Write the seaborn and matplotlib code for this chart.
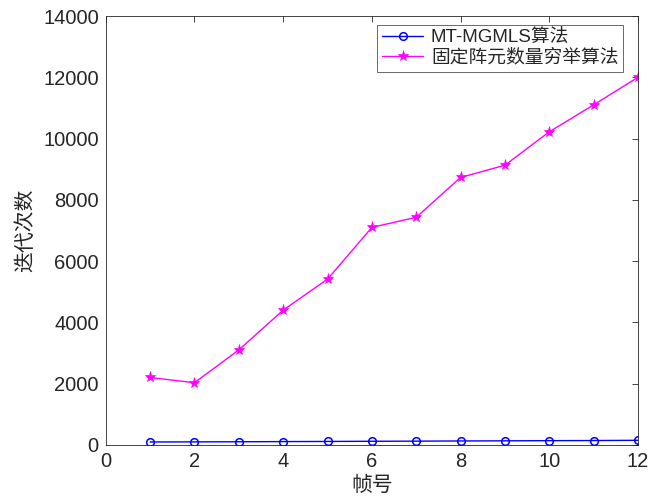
import matplotlib
matplotlib.use("Agg")
import matplotlib.pyplot as plt
import seaborn as sns

# frame index and iteration counts
frames = [1, 2, 3, 4, 5, 6, 7, 8, 9, 10, 11, 12]
mt_mgmls = [95, 98, 102, 108, 112, 118, 122, 128, 132, 138, 142, 150]
exhaustive = [2200, 2030, 3100, 4400, 5410, 7100, 7430, 8730, 9130, 10220, 11100, 12000]
series_names = ["MT-MGMLS算法", "固定阵元数量穷举算法"]
yticks = [0, 2000, 4000, 6000, 8000, 10000, 12000, 14000]
xticks = [0, 2, 4, 6, 8, 10, 12]

sns.set_style("white")
plt.rcParams["font.family"] = ["Liberation Sans", "Noto Sans CJK SC", "DejaVu Sans"]

fig = plt.figure(figsize=(6.49, 5.01), dpi=100)
ax = fig.add_axes([0.163, 0.112, 0.82, 0.856])

sns.lineplot(x=frames, y=mt_mgmls, color="#0000ff", marker="o", markersize=5.5,
             markerfacecolor="none", markeredgecolor="#0000ff", markeredgewidth=1.1,
             linewidth=1.0, label=series_names[0], ax=ax)
sns.lineplot(x=frames, y=exhaustive, color="#ff00ff", marker="*", markersize=8,
             markerfacecolor="#ff00ff", markeredgecolor="#ff00ff", markeredgewidth=0.5,
             linewidth=1.0, label=series_names[1], ax=ax)

ax.set_xlim(0, 12)
ax.set_ylim(0, 14000)
ax.set_xticks(xticks)
ax.set_yticks(yticks)
ax.tick_params(direction="in", length=4, width=0.6, top=True, right=True,
               labelsize=14.5, colors="#262626", pad=5)
for s in ax.spines.values():
    s.set_color("#262626")
    s.set_linewidth(0.6)

ax.set_xlabel("帧号", fontsize=15, family=["Noto Sans CJK SC"], color="#262626", labelpad=2)
ax.set_ylabel("迭代次数", fontsize=15, family=["Noto Sans CJK SC"], color="#262626", labelpad=5)

leg = ax.legend(loc="upper right", bbox_to_anchor=(0.972, 0.98),
                fontsize=13.5, frameon=True, fancybox=False, handlelength=2.2,
                borderpad=0.25, labelspacing=0.15, handletextpad=0.4, borderaxespad=0)
leg.get_frame().set_edgecolor("#262626")
leg.get_frame().set_linewidth(0.6)

fig.savefig("out.png", dpi=100)
